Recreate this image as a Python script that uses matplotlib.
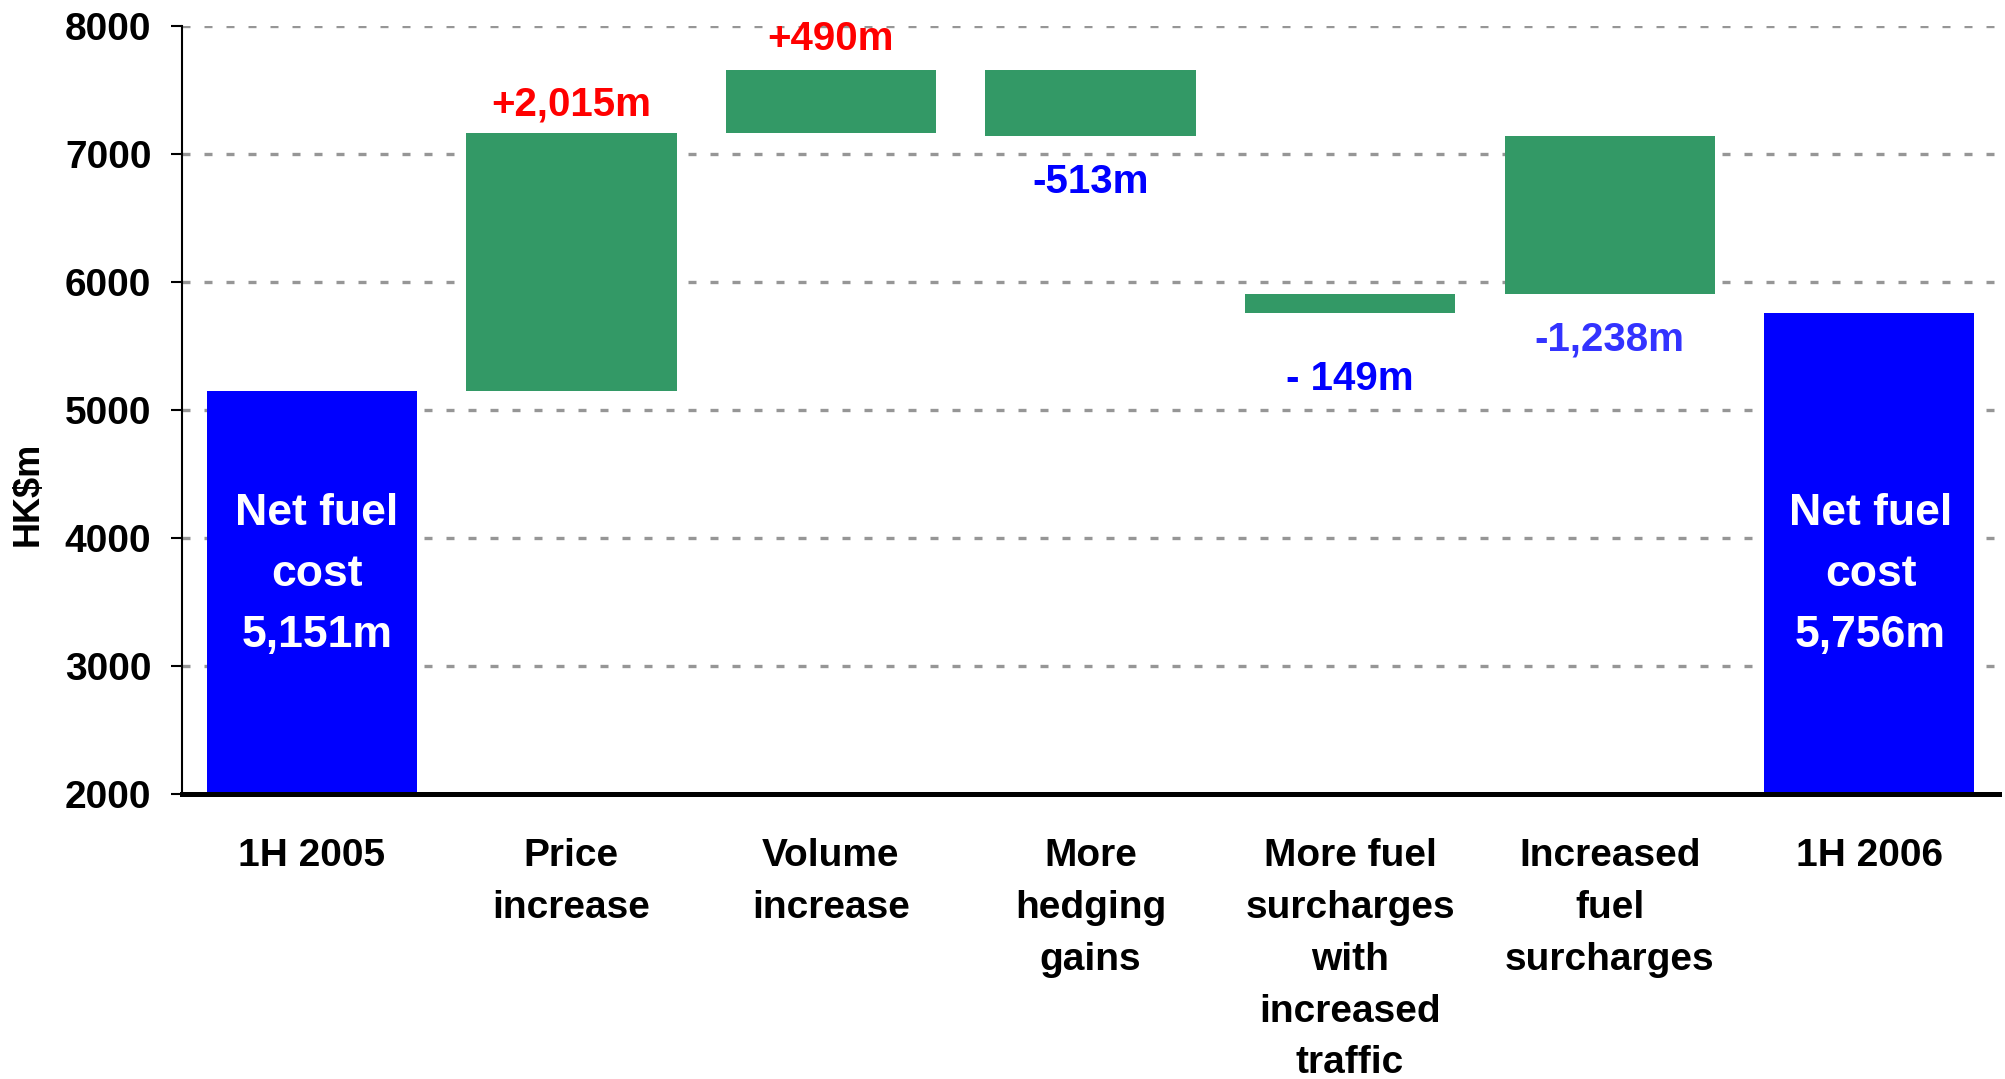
import matplotlib.pyplot as plt

# data (HK$m)
categories = [
    "1H 2005",
    "Price\nincrease",
    "Volume\nincrease",
    "More\nhedging\ngains",
    "More fuel\nsurcharges\nwith\nincreased\ntraffic",
    "Increased\nfuel\nsurcharges",
    "1H 2006",
]
start_total = 5151
end_total = 5756
changes = [2015, 490, -513, -149, -1238]
change_labels = ["+2,015m", "+490m", "-513m", "- 149m", "-1,238m"]
total_labels = ["Net fuel\ncost\n5,151m", "Net fuel\ncost\n5,756m"]

# the chart stacks the -1,238m step before the -149m one
apply_order = [0, 1, 2, 4, 3]

lows = [0] * len(changes)
highs = [0] * len(changes)
level = start_total
for i in apply_order:
    new_level = level + changes[i]
    lows[i] = min(level, new_level)
    highs[i] = max(level, new_level)
    level = new_level

plt.rcParams["font.family"] = ["Liberation Sans", "DejaVu Sans"]
plt.rcParams["font.weight"] = "bold"

fig = plt.figure(figsize=(20.05, 10.79), dpi=100)
ax = fig.add_axes([0.0908, 0.2641, 0.9062, 0.7118])

bar_width = 0.81
blue = "#0000FF"
green = "#339966"
y_floor = 2000

# totals
ax.bar([0, 6], [start_total - y_floor, end_total - y_floor], bar_width,
       bottom=y_floor, color=blue, zorder=3)

# floating steps
step_x = [1, 2, 3, 4, 5]
ax.bar(step_x, [h - l for l, h in zip(lows, highs)], bar_width,
       bottom=lows, color=green, zorder=3)

# value labels
label_y = [7385, 7895, 6785, 5245, 5550]
label_colors = ["#FF0000", "#FF0000", "#0000FF", "#0000FF", "#3333FF"]
for x, txt, y, c in zip(step_x, change_labels, label_y, label_colors):
    ax.text(x, y, txt, color=c, fontsize=29, fontweight="bold",
            ha="center", va="center", zorder=4)

for x, txt in zip([0.02, 6.005], total_labels):
    ax.text(x, 3715, txt, color="white", fontsize=32, fontweight="bold",
            ha="center", va="center", linespacing=1.62, zorder=4)

ax.set_xlim(-0.5, 6.5)
ax.set_ylim(2000, 8000)
ax.set_yticks(range(2000, 8001, 1000))
ax.set_xticks(range(len(categories)))
ax.set_xticklabels(categories, fontsize=28, fontweight="bold", linespacing=1.56)
ax.tick_params(axis="x", length=0, pad=32)
ax.tick_params(axis="y", labelsize=28, length=8, width=1.5, pad=14)
for lbl in ax.get_yticklabels():
    lbl.set_fontweight("bold")

# dashed grid (not at the 2000 baseline)
for yv in range(3000, 8001, 1000):
    ax.axhline(yv, color="#969696", lw=2.4, linestyle=(0, (2.4, 4.2)), zorder=1)

ax.spines["top"].set_visible(False)
ax.spines["right"].set_visible(False)
ax.spines["left"].set_linewidth(1.5)
ax.spines["bottom"].set_linewidth(3.6)
ax.spines["bottom"].set_zorder(5)

fig.text(28 / 2005, 0.542, "HK$m", rotation=90, fontsize=26, fontweight="bold",
         ha="center", va="center")

fig.savefig("out.png", dpi=100)
